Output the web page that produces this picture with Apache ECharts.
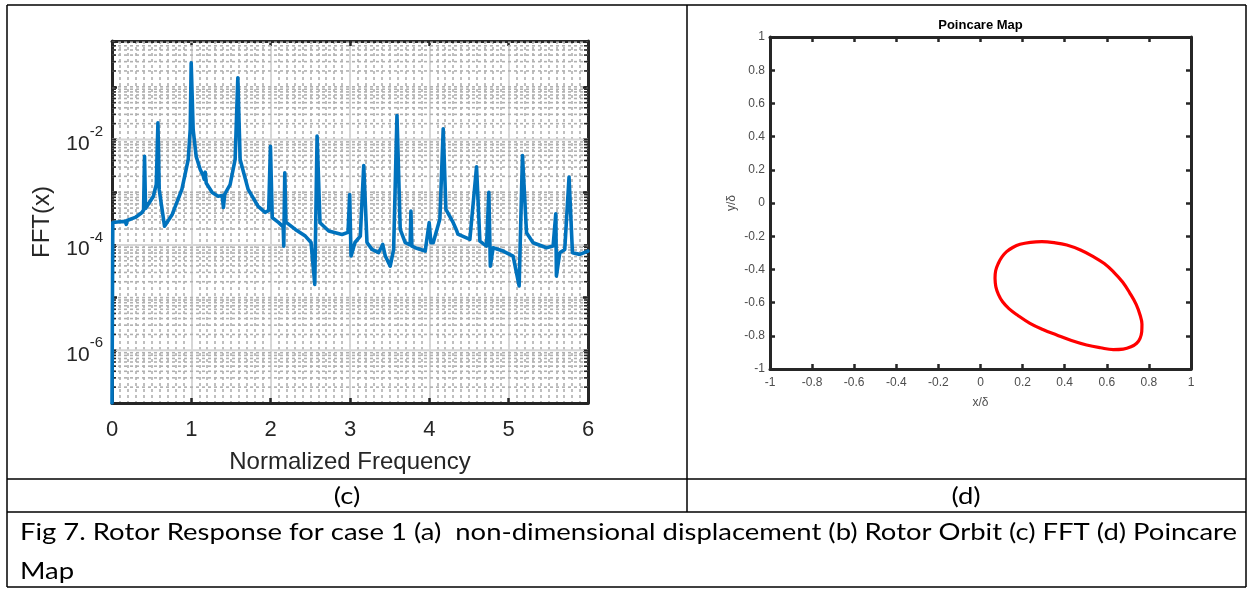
<!DOCTYPE html>
<html>
<head>
<meta charset="utf-8">
<script src="https://cdn.jsdelivr.net/npm/echarts@6/dist/echarts.min.js"></script>
<style>
html,body{margin:0;padding:0;background:#fff;}
#chart{width:1254px;height:590px;}
</style>
</head>
<body>
<div id="chart"></div>
<script>
// ---------- data ----------
const fftFreq = [0, 0.01, 0.10, 0.167, 0.18, 0.19, 0.293, 0.378, 0.398, 0.410, 0.423, 0.441, 0.520, 0.558, 0.579, 0.595, 0.662, 0.759, 0.881, 0.961, 0.986, 0.998, 1.023, 1.061, 1.112, 1.149, 1.162, 1.175, 1.187, 1.263, 1.338, 1.389, 1.405, 1.420, 1.489, 1.552, 1.586, 1.615, 1.716, 1.842, 1.930, 1.975, 1.997, 2.020, 2.102, 2.158, 2.165, 2.178, 2.192, 2.311, 2.437, 2.509, 2.556, 2.585, 2.622, 2.732, 2.899, 2.975, 2.996, 3.013, 3.063, 3.130, 3.173, 3.214, 3.277, 3.361, 3.412, 3.445, 3.507, 3.550, 3.592, 3.633, 3.696, 3.758, 3.768, 3.780, 3.822, 3.948, 3.998, 4.020, 4.049, 4.133, 4.175, 4.209, 4.301, 4.343, 4.360, 4.511, 4.595, 4.637, 4.721, 4.750, 4.769, 4.804, 4.930, 5.056, 5.132, 5.174, 5.225, 5.308, 5.477, 5.560, 5.594, 5.602, 5.644, 5.707, 5.761, 5.804, 5.896, 6.0];
const fftAmp = [1e-7, 2.67e-4, 2.75e-4, 2.79e-4, 2.45e-4, 2.9e-4, 3.32e-4, 4.13e-4, 4.6e-4, 4.82e-3, 4.9e-4, 4.7e-4, 8.3e-4, 1.40e-3, 2.07e-2, 1.13e-3, 2.27e-4, 3.79e-4, 1.13e-3, 4.18e-3, 1.55e-2, 0.284, 1.55e-2, 4.76e-3, 2.70e-3, 2.08e-3, 1.75e-3, 2.4e-3, 1.5e-3, 9.89e-4, 8.41e-4, 8.67e-4, 5.14e-4, 9.05e-4, 1.40e-3, 4.18e-3, 0.148, 4.18e-3, 1.13e-3, 5.37e-4, 4.13e-4, 4.5e-4, 7.46e-3, 3.3e-4, 2.64e-4, 2.2e-4, 9.49e-5, 2.34e-3, 2.7e-4, 1.97e-4, 1.47e-4, 1.11e-4, 1.78e-5, 1.16e-2, 2.64e-4, 1.83e-4, 1.58e-4, 1.73e-4, 9.05e-4, 6.14e-5, 1.11e-4, 1.47e-4, 3.21e-3, 1.11e-4, 8.22e-5, 7.11e-5, 1.02e-4, 6.14e-5, 3.96e-5, 8.22e-5, 2.85e-2, 1.97e-4, 1.10e-4, 1.0e-4, 4.38e-4, 9.5e-5, 8.85e-5, 7.64e-5, 2.64e-4, 1.1e-4, 1.10e-4, 3.1e-4, 1.60e-2, 4.7e-4, 2.64e-4, 1.9e-4, 1.6e-4, 1.27e-4, 3.03e-3, 1.18e-4, 9.49e-5, 1.00e-3, 3.96e-5, 8.85e-5, 7.64e-5, 6.14e-5, 1.66e-5, 4.97e-3, 1.70e-4, 1.10e-4, 8.85e-5, 9.49e-5, 3.90e-4, 2.56e-5, 7.11e-5, 8.22e-5, 1.93e-3, 7.11e-5, 6.61e-5, 7.64e-5];

const orbitX = [0.069, 0.072, 0.085, 0.102, 0.124, 0.153, 0.188, 0.237, 0.291, 0.350, 0.410, 0.475, 0.536, 0.588, 0.631, 0.675, 0.710, 0.740, 0.758, 0.767, 0.766, 0.758, 0.742, 0.715, 0.678, 0.631, 0.570, 0.504, 0.432, 0.362, 0.296, 0.235, 0.175, 0.135, 0.105, 0.085, 0.073, 0.069];
const orbitY = [-0.454, -0.408, -0.363, -0.325, -0.293, -0.268, -0.249, -0.237, -0.233, -0.239, -0.253, -0.283, -0.323, -0.365, -0.414, -0.476, -0.544, -0.612, -0.675, -0.730, -0.775, -0.815, -0.845, -0.866, -0.880, -0.883, -0.872, -0.855, -0.828, -0.795, -0.762, -0.725, -0.675, -0.636, -0.595, -0.550, -0.505, -0.454];

const fftXName = 'Normalized Frequency';
const fftYName = 'FFT(x)';
const mapTitle = 'Poincare Map';
const mapXName = 'x/δ';
const mapYName = 'y/δ';
const panelLabels = ['(c)', '(d)'];
const captionLines = ['Fig 7. Rotor Response for case 1 (a)  non-dimensional displacement (b) Rotor Orbit (c) FFT (d) Poincare', 'Map'];

// ---------- styling ----------
const F = 'Liberation Sans, Arial, Helvetica, sans-serif';
const CAPF = 'Lato, "Open Sans", sans-serif';
const CAP_SIZE = 24;
const AX = '#262626';
const Y_MIN = 1e-7, Y_MAX = 0.74;

const mctx = document.createElement('canvas').getContext('2d');
mctx.font = CAP_SIZE + 'px ' + CAPF;
const capScale = 1217 / mctx.measureText(captionLines[0]).width;

// horizontal log grid lines (axis decoration)
const hGrid = [];
for (let k = -7; k <= -1; k++) {
  for (let m = 1; m <= 9; m++) {
    const v = m * Math.pow(10, k);
    if (v > Y_MAX) continue;
    if (m === 1 && k === -7) continue;
    hGrid.push([v, (m === 1 && k % 2 === 0) ? 1 : 0]);
  }
}

const chart = echarts.init(document.getElementById('chart'), null, {renderer: 'canvas'});

function boxAxis(extra) {
  return Object.assign({
    axisLine: {show: true, onZero: false, lineStyle: {color: AX, width: 3}},
    axisTick: {show: true, inside: true, length: 5, lineStyle: {color: AX, width: 2.5}},
    axisLabel: {show: false},
    splitLine: {show: false}
  }, extra);
}

const tl = (x1, y1, x2, y2) => ({type: 'line', silent: true, z: 100, shape: {x1, y1, x2, y2}, style: {stroke: '#000', lineWidth: 1.5}});
const tx = (x, y, text, size, align, weight, fam, color, sx) => ({type: 'text', silent: true, z: 100, x, y, scaleX: sx || 1, style: {text, font: (weight || 'normal') + ' ' + size + 'px ' + fam, fill: color || '#000', align: align, verticalAlign: 'middle'}});

const option = {
  animation: false,
  backgroundColor: '#ffffff',
  grid: [
    {left: 112, top: 41, width: 476, height: 362, show: false},
    {left: 770, top: 37, width: 421, height: 332, show: false}
  ],
  xAxis: [
    boxAxis({
      gridIndex: 0, type: 'value', min: 0, max: 6, interval: 1, position: 'bottom',
      axisLabel: {show: true, fontSize: 22, color: AX, fontFamily: F, margin: 16},
      splitLine: {show: true, lineStyle: {color: '#d6d6d6', width: 2}},
      minorTick: {show: false, splitNumber: 10},
      minorSplitLine: {show: true, lineStyle: {color: '#b0b0b0', width: 1.6, type: [3, 3]}},
      name: fftXName, nameLocation: 'middle', nameGap: 47,
      nameTextStyle: {fontSize: 24, color: AX, fontFamily: F}
    }),
    boxAxis({gridIndex: 0, type: 'value', min: 0, max: 6, interval: 1, position: 'top'}),
    boxAxis({
      gridIndex: 1, type: 'value', min: -1, max: 1, interval: 0.2, position: 'bottom',
      axisLabel: {show: true, fontSize: 12, color: '#4d4d4d', fontFamily: F, margin: 8},
      name: mapXName, nameLocation: 'middle', nameGap: 28,
      nameTextStyle: {fontSize: 12, color: '#4d4d4d', fontFamily: F}
    }),
    boxAxis({gridIndex: 1, type: 'value', min: -1, max: 1, interval: 0.2, position: 'top'})
  ],
  yAxis: [
    boxAxis({
      gridIndex: 0, type: 'log', logBase: 10, min: Y_MIN, max: Y_MAX, position: 'left',
      axisLabel: {
        show: true, margin: 9,
        formatter: function (v) {
          const e = Math.log10(v), r = Math.round(e);
          if (Math.abs(e - r) > 1e-6 || r % 2 !== 0) return '';
          return '{b|10}{s|' + r + '}';
        },
        rich: {
          b: {fontSize: 21, color: AX, fontFamily: F, lineHeight: 30, verticalAlign: 'bottom'},
          s: {fontSize: 15, color: AX, fontFamily: F, lineHeight: 30, verticalAlign: 'top'}
        }
      },
      name: fftYName, nameLocation: 'middle', nameGap: 58, nameRotate: 90,
      nameTextStyle: {fontSize: 24, color: AX, fontFamily: F}
    }),
    boxAxis({gridIndex: 0, type: 'log', logBase: 10, min: Y_MIN, max: Y_MAX, position: 'right'}),
    boxAxis({
      gridIndex: 1, type: 'value', min: -1, max: 1, interval: 0.2, position: 'left',
      axisLabel: {show: true, fontSize: 12, color: '#4d4d4d', fontFamily: F, margin: 5},
      name: mapYName, nameLocation: 'middle', nameGap: 32, nameRotate: 90,
      nameTextStyle: {fontSize: 12, color: '#4d4d4d', fontFamily: F}
    }),
    boxAxis({gridIndex: 1, type: 'value', min: -1, max: 1, interval: 0.2, position: 'right'})
  ],
  series: [
    {
      type: 'custom', xAxisIndex: 0, yAxisIndex: 0, silent: true, z: 1,
      data: hGrid, clip: true,
      renderItem: function (params, api) {
        const v = api.value(0), major = api.value(1);
        const p1 = api.coord([0, v]), p2 = api.coord([6, v]);
        return {
          type: 'group',
          children: [
            {
              type: 'line', silent: true,
              shape: {x1: p1[0], y1: p1[1], x2: p2[0], y2: p2[1]},
              style: major ? {stroke: '#d6d6d6', lineWidth: 2}
                           : {stroke: '#b0b0b0', lineWidth: 1.6, lineDash: [3, 3]}
            },
            {type: 'line', silent: true, z2: 10, shape: {x1: p1[0], y1: p1[1], x2: p1[0] + 4, y2: p1[1]}, style: {stroke: AX, lineWidth: 1.6}},
            {type: 'line', silent: true, z2: 10, shape: {x1: p2[0] - 4, y1: p2[1], x2: p2[0], y2: p2[1]}, style: {stroke: AX, lineWidth: 1.6}}
          ]
        };
      }
    },
    {
      type: 'line', xAxisIndex: 0, yAxisIndex: 0, z: 5,
      data: fftFreq.map((f, i) => [f, fftAmp[i]]),
      symbol: 'none', showSymbol: false,
      lineStyle: {color: '#0072BD', width: 3.6, cap: 'round', join: 'round'}
    },
    {
      type: 'line', xAxisIndex: 2, yAxisIndex: 2, z: 5,
      data: orbitX.map((x, i) => [x, orbitY[i]]),
      symbol: 'none', showSymbol: false, smooth: 0.4,
      lineStyle: {color: '#ff0000', width: 3.2, cap: 'round', join: 'round'}
    }
  ],
  graphic: [
    tl(7, 5, 1246, 5),
    tl(7, 5, 7, 587),
    tl(1246, 5, 1246, 587),
    tl(687, 5, 687, 512),
    tl(7, 479, 1246, 479),
    tl(7, 512, 1246, 512),
    tl(7, 587, 1246, 587),
    tx(980.5, 25, mapTitle, 13, 'center', 'bold', F, '#000'),
    tx(347, 496, panelLabels[0], CAP_SIZE, 'center', 'normal', CAPF, '#000', capScale),
    tx(966, 496, panelLabels[1], CAP_SIZE, 'center', 'normal', CAPF, '#000', capScale),
    tx(20, 532, captionLines[0], CAP_SIZE, 'left', 'normal', CAPF, '#000', capScale),
    tx(20, 571, captionLines[1], CAP_SIZE, 'left', 'normal', CAPF, '#000', capScale)
  ]
};
chart.setOption(option);
</script>
</body>
</html>
